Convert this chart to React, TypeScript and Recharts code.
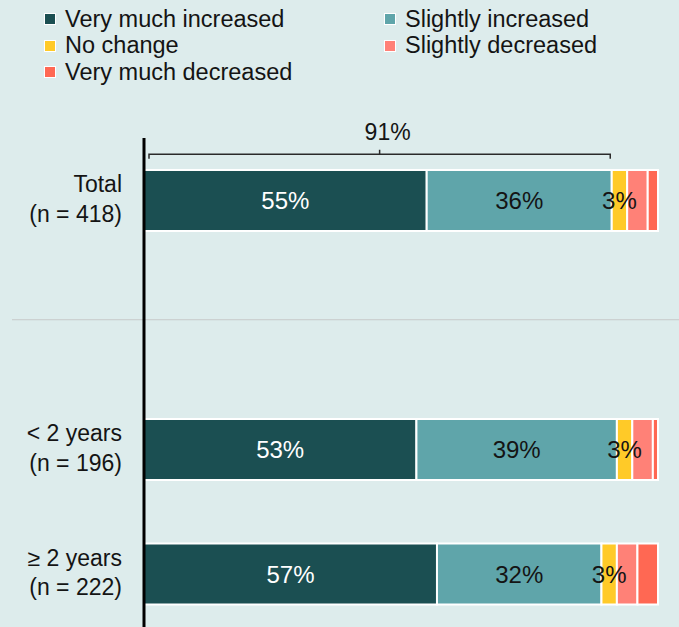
import { BarChart, Bar, XAxis, YAxis, LabelList, ReferenceLine } from "recharts";

const FONT = '"Liberation Sans", Arial, Helvetica, sans-serif';
const BG = "#ddecec";
const INK = "#141414";

// rows of the chart ("gap" is the empty row holding the divider)
const groups = ["total", "gap", "under2", "over2"];
const groupLabels = ["Total", "", "< 2 years", "≥ 2 years"];
const groupSizes = [418, null, 196, 222];

// shares in percent
const veryMuchIncreased = [55, null, 53, 57];
const slightlyIncreased = [36, null, 39, 32];
const noChange = [3, null, 3, 3];
const slightlyDecreased = [4, null, 4, 4];
const veryMuchDecreased = [2, null, 1, 4];

const seriesKeys = ["vmi", "si", "nc", "sd", "vmd"];
const seriesNames = [
  "Very much increased",
  "Slightly increased",
  "No change",
  "Slightly decreased",
  "Very much decreased",
];
const seriesColors = ["#1b4f52", "#5fa5aa", "#ffca28", "#ff8177", "#ff6853"];
const labelColors = ["#ffffff", INK, INK, null, null];

const bracketGroup = "total";
const bracketValue = 91;
const dividerGroup = "gap";

const seriesValues = [
  veryMuchIncreased,
  slightlyIncreased,
  noChange,
  slightlyDecreased,
  veryMuchDecreased,
];

const data = groups.map((group, i) => {
  const row: Record<string, string | number | null> = { group };
  seriesKeys.forEach((k, s) => {
    row[k] = seriesValues[s][i];
  });
  return row;
});

function GroupTick({ x, y, payload }: any) {
  const i = groups.indexOf(payload.value);
  if (i < 0 || !groupLabels[i]) return null;
  const common = {
    x,
    textAnchor: "end" as const,
    fontSize: 23,
    fill: INK,
    fontFamily: FONT,
    dy: "0.355em",
  };
  return (
    <g>
      <text {...common} y={y - 16}>
        {groupLabels[i]}
      </text>
      <text {...common} y={y + 13.5}>
        (n = {groupSizes[i]})
      </text>
    </g>
  );
}

function Bracket(props: any) {
  const { x1, x2, y1 } = props;
  const top = y1 - 46;
  const left = x1 + 5;
  const right = x2 - 1.5;
  const mid = (left + right) / 2;
  return (
    <g>
      <path
        d={`M${left},${top + 4.5}V${top}H${right}V${top + 4.5}M${mid},${top}V${top - 4.5}`}
        stroke="#2a2a2a"
        strokeWidth={1.5}
        fill="none"
      />
      <text
        x={mid + 8}
        y={top - 22.4}
        dy="0.355em"
        textAnchor="middle"
        fontSize={23}
        fontFamily={FONT}
        fill={INK}
      >
        {bracketValue}%
      </text>
    </g>
  );
}

function Divider(props: any) {
  const { x1, x2, y1 } = props;
  const y = y1 - 5;
  return <line x1={x1 - 132} x2={x2 + 21} y1={y} y2={y} stroke="#c6c9c9" strokeWidth={1.2} />;
}

export default function App() {
  return (
    <div
      style={{
        position: "absolute",
        left: 0,
        top: 0,
        width: 679,
        height: 627,
        overflow: "hidden",
        background: BG,
        fontFamily: FONT,
      }}
    >
      <div
        style={{
          position: "absolute",
          left: 44,
          top: 5.75,
          display: "grid",
          gridTemplateColumns: "340px 295px",
          fontSize: 23.5,
          lineHeight: "26.5px",
          color: INK,
          whiteSpace: "nowrap",
        }}
      >
        {seriesNames.map((name, i) => (
          <div key={name} style={{ display: "flex", alignItems: "center" }}>
            <span
              style={{
                width: 10,
                height: 10,
                flexShrink: 0,
                background: seriesColors[i],
                border: "1px solid #ffffff",
                marginRight: 9,
              }}
            />
            {name}
          </div>
        ))}
      </div>

      <BarChart
        width={679}
        height={660}
        data={data}
        layout="vertical"
        margin={{ top: 138, right: 21, bottom: 24, left: 0 }}
        barSize={61}
      >
        <XAxis type="number" domain={[0, 100]} hide />
        <YAxis
          type="category"
          dataKey="group"
          width={144}
          axisLine={false}
          tickLine={false}
          tickMargin={16}
          tick={<GroupTick />}
          interval={0}
        />
        <ReferenceLine y={dividerGroup} shape={<Divider />} />
        {seriesKeys.map((key, i) => (
          <Bar
            key={key}
            dataKey={key}
            name={seriesNames[i]}
            stackId="share"
            fill={seriesColors[i]}
            stroke="#ffffff"
            strokeWidth={2}
            isAnimationActive={false}
          >
            {labelColors[i] && (
              <LabelList
                dataKey={key}
                position="center"
                formatter={(v: any) => (v == null ? "" : `${v}%`)}
                fill={labelColors[i] as string}
                fontSize={24}
                fontFamily={FONT}
              />
            )}
          </Bar>
        ))}
        <ReferenceLine
          segment={[
            { x: 0, y: bracketGroup },
            { x: bracketValue, y: bracketGroup },
          ]}
          shape={<Bracket />}
        />
        <ReferenceLine x={0} stroke="#000000" strokeWidth={3} />
      </BarChart>
    </div>
  );
}
